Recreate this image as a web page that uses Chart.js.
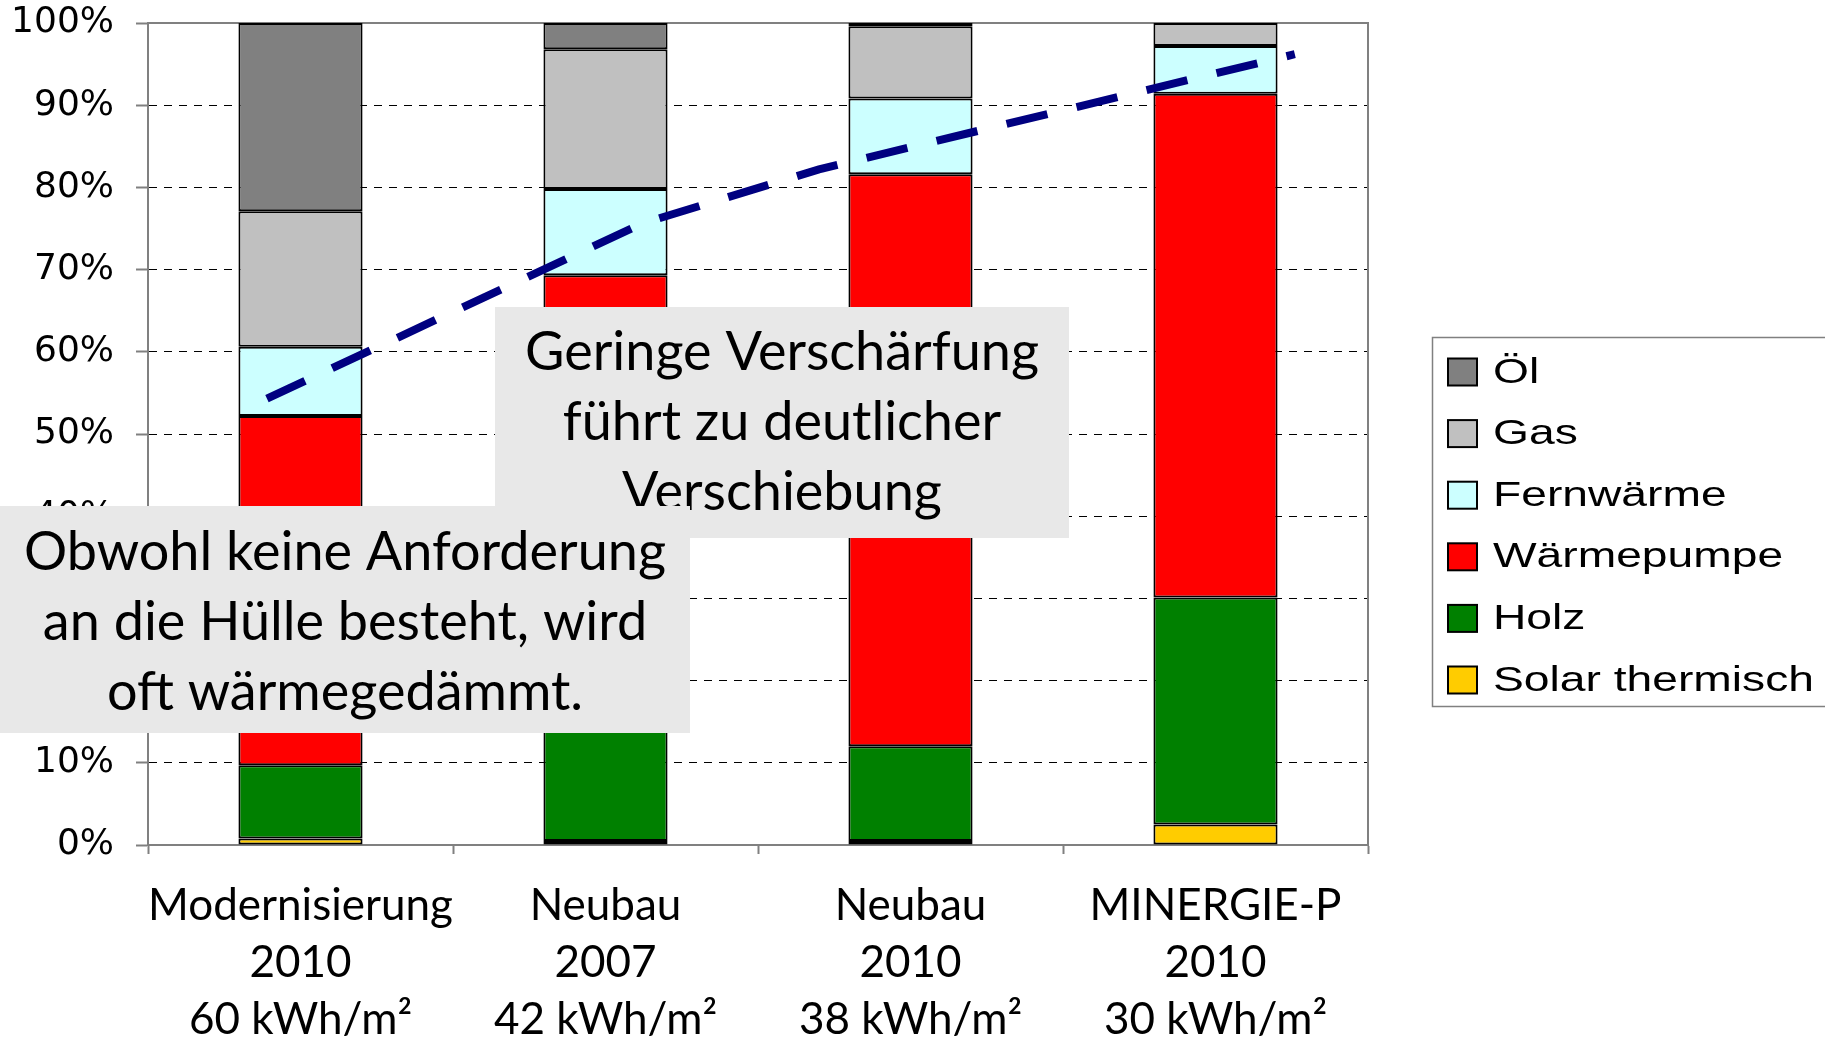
<!DOCTYPE html>
<html>
<head>
<meta charset="utf-8">
<title>Heizsysteme</title>
<script src="https://cdn.jsdelivr.net/npm/chart.js@4.4.1/dist/chart.umd.min.js"></script>
<style>
	html, body { margin: 0; padding: 0; background: #ffffff; }
	div.view { width: 1825px; height: 1041px; position: relative; }
</style>
</head>
<body>
<div class="view"><canvas id="chart" width="1825" height="1041"></canvas></div>
<script>
// categories (multi line labels)
const categories = [
	['Modernisierung', '2010', '60 kWh/m\u00b2'],
	['Neubau', '2007', '42 kWh/m\u00b2'],
	['Neubau', '2010', '38 kWh/m\u00b2'],
	['MINERGIE-P', '2010', '30 kWh/m\u00b2']
];
// shares in %, bottom to top of the stack
const solar_values = [0.8, 0.5, 0.5, 2.5];
const holz_values = [8.9, 17.0, 11.5, 27.6];
const waermepumpe_values = [42.5, 51.8, 69.6, 61.3];
const fernwaerme_values = [8.4, 10.5, 9.2, 5.8];
const gas_values = [16.5, 17.0, 8.8, 2.8];
const oel_values = [22.9, 3.2, 0.4, 0];
// trend line, x in category units (0 = left edge, 4 = right edge)
const trend_x = [0.39, 1.62, 2.20, 3.76];
const trend_y = [54.3, 75.6, 82.2, 96.2];
const y_ticks = [0, 10, 20, 30, 40, 50, 60, 70, 80, 90, 100];

const notes = [
	{
		lines: ['Geringe Verschärfung', 'führt zu deutlicher', 'Verschiebung'],
		box: [495, 307, 574, 231],
		first_line: 353
	},
	{
		lines: ['Obwohl keine Anforderung', 'an die Hülle besteht, wird', 'oft wärmegedämmt.'],
		box: [0, 506, 690, 227],
		first_line: 553
	}
];

function barSet(label, values, color)
{
	return {
		type: 'bar',
		label: label,
		data: values,
		backgroundColor: color,
		borderColor: '#000000',
		borderWidth: 2,
		borderSkipped: false,
		grouped: false,
		barPercentage: 0.407,
		categoryPercentage: 1.0
	};
}

let trend_points = [];
for(let i = 0; i < trend_x.length; i++)
{
	trend_points.push({x: trend_x[i], y: trend_y[i]});
}

const frame_plugin = {
	id: 'frame',
	beforeDatasetsDraw(chart)
	{
		let area = chart.chartArea;
		let ctx = chart.ctx;
		ctx.save();
		ctx.strokeStyle = '#808080';
		ctx.lineWidth = 2;
		ctx.beginPath();
		ctx.moveTo(area.left, area.top);
		ctx.lineTo(area.right, area.top);
		ctx.lineTo(area.right, area.bottom);
		ctx.stroke();
		ctx.restore();
	}
};

const legend_plugin = {
	id: 'side_legend',
	afterDraw(chart)
	{
		let ctx = chart.ctx;
		let items = chart.data.datasets.filter(function(ds) { return ds.type === 'bar'; }).reverse();
		ctx.save();
		ctx.fillStyle = '#ffffff';
		ctx.fillRect(1433, 338, 420, 369);
		ctx.strokeStyle = '#808080';
		ctx.lineWidth = 1.5;
		ctx.strokeRect(1432.5, 337.5, 420, 369);
		ctx.font = '35px "Liberation Sans", Arial, sans-serif';
		ctx.textBaseline = 'middle';
		ctx.textAlign = 'left';
		for(let i = 0; i < items.length; i++)
		{
			let cy = 372 + i * 61.6;
			ctx.fillStyle = items[i].backgroundColor;
			ctx.fillRect(1448, cy - 13.5, 29, 27);
			ctx.strokeStyle = '#000000';
			ctx.lineWidth = 2;
			ctx.strokeRect(1448, cy - 13.5, 29, 27);
			// the original text is stretched sideways
			ctx.save();
			ctx.translate(1493, cy + 1);
			ctx.scale(1.32, 1);
			ctx.fillStyle = '#000000';
			ctx.fillText(items[i].label, 0, 0);
			ctx.restore();
		}
		ctx.restore();
	}
};

const notes_plugin = {
	id: 'notes',
	afterDraw(chart)
	{
		let ctx = chart.ctx;
		ctx.save();
		for(let note of notes)
		{
			let b = note.box;
			ctx.fillStyle = '#e8e8e8';
			ctx.fillRect(b[0], b[1], b[2], b[3]);
			ctx.fillStyle = '#000000';
			ctx.font = '54px Lato, "Open Sans", sans-serif';
			ctx.textAlign = 'center';
			ctx.textBaseline = 'middle';
			for(let i = 0; i < note.lines.length; i++)
			{
				ctx.fillText(note.lines[i], b[0] + b[2] / 2, note.first_line + i * 70);
			}
		}
		ctx.restore();
	}
};

let datasets = [
	barSet('Solar thermisch', solar_values, '#ffcc00'),
	barSet('Holz', holz_values, '#008000'),
	barSet('Wärmepumpe', waermepumpe_values, '#ff0000'),
	barSet('Fernwärme', fernwaerme_values, '#ccffff'),
	barSet('Gas', gas_values, '#c0c0c0'),
	barSet('Öl', oel_values, '#808080'),
	{
		type: 'line',
		label: 'Trend',
		data: trend_points,
		xAxisID: 'x2',
		yAxisID: 'y',
		stack: 'trend',
		order: -1,
		borderColor: '#000080',
		borderWidth: 8,
		borderDash: [42, 30],
		borderCapStyle: 'butt',
		pointRadius: 0,
		fill: false,
		tension: 0
	}
];

new Chart(document.getElementById('chart'),
	{
		data:
			{
				labels: categories,
				datasets: datasets
			},
		options:
			{
				responsive: false,
				animation: false,
				layout:
					{
						padding: { top: 23, right: 457, left: 0, bottom: 0 }
					},
				plugins:
					{
						legend: { display: false },
						tooltip: { enabled: false }
					},
				scales:
					{
						x:
							{
								type: 'category',
								stacked: true,
								offset: true,
								grid:
									{
										offset: true,
										drawOnChartArea: false,
										drawTicks: true,
										tickLength: 9,
										tickColor: '#808080',
										tickWidth: 2
									},
								border: { color: '#808080', width: 2 },
								ticks:
									{
										color: '#000000',
										padding: 23,
										maxRotation: 0,
										autoSkip: false,
										font: { family: 'Lato, "Open Sans", sans-serif', size: 44, lineHeight: '57px' }
									},
								afterFit: function(scale)
									{
										scale.height = 196;
										scale.paddingLeft = 0;
										scale.paddingRight = 0;
									}
							},
						x2:
							{
								type: 'linear',
								display: false,
								min: 0,
								max: 4
							},
						y:
							{
								stacked: true,
								min: 0,
								max: 100,
								afterBuildTicks: function(scale)
									{
										scale.ticks = y_ticks.map(function(v) { return {value: v}; });
									},
								grid:
									{
										color: '#000000',
										lineWidth: 1,
										drawTicks: true,
										tickLength: 12,
										tickColor: '#808080',
										tickWidth: 2,
										tickBorderDash: []
									},
								border: { color: '#808080', width: 2, dash: [8, 7] },
								ticks:
									{
										color: '#000000',
										padding: 22,
										font: { family: '"DejaVu Sans", sans-serif', size: 36 },
										callback: function(v) { return v + '%'; }
									},
								afterFit: function(scale)
									{
										scale.width = 148;
										scale.paddingTop = 0;
										scale.paddingBottom = 0;
									}
							}
					}
			},
		plugins: [frame_plugin, legend_plugin, notes_plugin]
	});
</script>
</body>
</html>
